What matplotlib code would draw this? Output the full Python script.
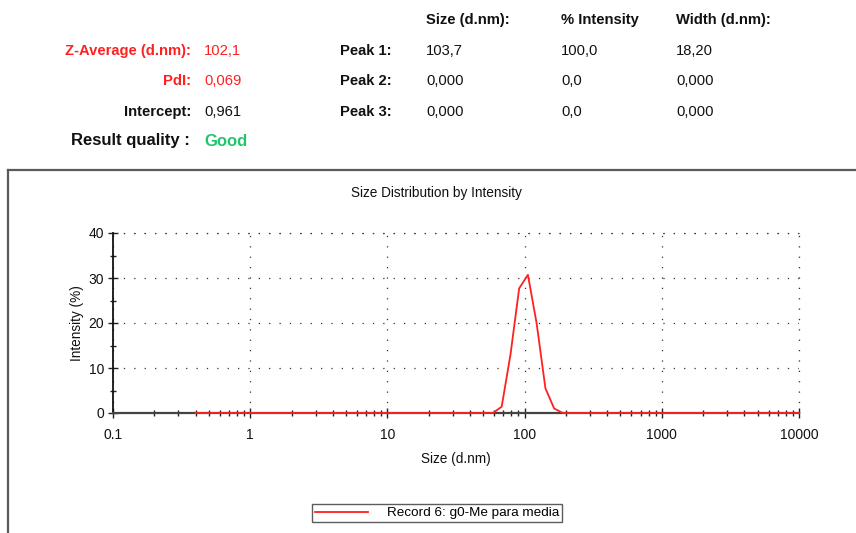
import matplotlib
matplotlib.use("Agg")
import matplotlib.pyplot as plt
from matplotlib.lines import Line2D
from matplotlib.ticker import LogLocator, FixedLocator, NullFormatter, FixedFormatter

plt.rcParams['font.family'] = ['Liberation Sans', 'DejaVu Sans']

# Size classes (d.nm) and intensity distribution (%)
size_classes = [
    0.4, 0.4632, 0.5365, 0.6213, 0.7195, 0.8332, 0.9649, 1.117, 1.294, 1.499,
    1.736, 2.01, 2.328, 2.696, 3.122, 3.615, 4.187, 4.849, 5.615, 6.503,
    7.531, 8.721, 10.1, 11.7, 13.54, 15.69, 18.17, 21.04, 24.36, 28.21,
    32.67, 37.84, 43.82, 50.75, 58.77, 68.06, 78.82, 91.28, 105.7, 122.4,
    141.8, 164.2, 190.1, 220.2, 255.0, 295.3, 342.0, 396.1, 458.7, 531.2,
    615.1, 712.4, 825.0, 955.4, 1106, 1281, 1484, 1718, 1990, 2305,
    2669, 3091, 3580, 4145, 4801, 5560, 6439, 7456, 8635, 10000,
]
intensity = [
    0, 0, 0, 0, 0, 0, 0, 0, 0, 0,
    0, 0, 0, 0, 0, 0, 0, 0, 0, 0,
    0, 0, 0, 0, 0, 0, 0, 0, 0, 0,
    0, 0, 0, 0, 0.0, 1.4, 12.9, 27.7, 30.7, 19.9,
    5.5, 1.0, 0.0, 0, 0, 0, 0, 0, 0, 0,
    0, 0, 0, 0, 0, 0, 0, 0, 0, 0,
    0, 0, 0, 0, 0, 0, 0, 0, 0, 0,
]
record_label = "Record 6: g0-Me para media"

x_ticks = [0.1, 1, 10, 100, 1000, 10000]
x_tick_labels = ["0.1", "1", "10", "100", "1000", "10000"]
y_ticks = [0, 10, 20, 30, 40]

# Summary table
summary_labels = ["Z-Average (d.nm):", "PdI:", "Intercept:"]
summary_values = ["102,1", "0,069", "0,961"]
summary_colors = ["#ff2020", "#ff2020", "#111111"]
quality_label = "Result quality :"
quality_value = "Good"
peak_labels = ["Peak 1:", "Peak 2:", "Peak 3:"]
column_headers = ["Size (d.nm):", "% Intensity", "Width (d.nm):"]
peak_sizes = ["103,7", "0,000", "0,000"]
peak_intensities = ["100,0", "0,0", "0,0"]
peak_widths = ["18,20", "0,000", "0,000"]

W, H = 856, 533
fig = plt.figure(figsize=(W / 100, H / 100), dpi=100)
fig.patch.set_facecolor("white")


def fx(px):
    return px / W


def fy(py):
    return 1 - py / H


HDR_FS = 10.6

# ---- header text block ----
row_y = [51, 81, 112]
for lab, val, col, yy in zip(summary_labels, summary_values, summary_colors, row_y):
    fig.text(fx(191), fy(yy), lab, ha="right", va="center", fontsize=HDR_FS,
             fontweight="bold", color=col)
    fig.text(fx(204), fy(yy), val, ha="left", va="center", fontsize=HDR_FS,
             color=col)
fig.text(fx(190), fy(141), quality_label, ha="right", va="center", fontsize=12,
         fontweight="bold", color="#111111")
fig.text(fx(204), fy(141), quality_value, ha="left", va="center", fontsize=12,
         fontweight="bold", color="#22c46c")

col_x = [426, 561, 676]
for hdr, cx in zip(column_headers, col_x):
    fig.text(fx(cx), fy(20), hdr, ha="left", va="center", fontsize=HDR_FS,
             fontweight="bold", color="#111111")
for i, yy in enumerate(row_y):
    fig.text(fx(392), fy(yy), peak_labels[i], ha="right", va="center",
             fontsize=HDR_FS, fontweight="bold", color="#111111")
    for cx, vals in zip(col_x, [peak_sizes, peak_intensities, peak_widths]):
        fig.text(fx(cx), fy(yy), vals[i], ha="left", va="center",
                 fontsize=HDR_FS, color="#111111")

# ---- chart frame ----
frame_col = "#5a5a5a"
fig.add_artist(Line2D([fx(8), fx(8)], [0, fy(170)], color=frame_col, lw=1.6))
fig.add_artist(Line2D([fx(8), 1.0], [fy(170), fy(170)], color=frame_col, lw=1.6))

fig.text(fx(436), fy(193), "Size Distribution by Intensity", ha="center",
         va="center", fontsize=9.8, color="#111111")

# ---- plot ----
ax = fig.add_axes([fx(113), fy(413), fx(799) - fx(113), fy(233) - fy(413)])
ax.set_xscale("log")
ax.set_xlim(0.1, 10000)
ax.set_ylim(0, 40)

line, = ax.plot(size_classes, intensity, color="#ff2020", lw=1.3,
                label=record_label, zorder=2.6, clip_on=False)

ax.xaxis.set_major_locator(FixedLocator(x_ticks))
ax.xaxis.set_major_formatter(FixedFormatter(x_tick_labels))
ax.xaxis.set_minor_locator(LogLocator(base=10, subs=range(2, 10), numticks=20))
ax.xaxis.set_minor_formatter(NullFormatter())
ax.yaxis.set_major_locator(FixedLocator(y_ticks))
ax.yaxis.set_minor_locator(FixedLocator([5, 15, 25, 35]))

ax.tick_params(axis="both", which="major", direction="inout", length=7,
               width=1, color="#222222", labelsize=10, labelcolor="#111111")
ax.tick_params(axis="x", which="major", pad=7.5)
ax.tick_params(axis="y", which="major", pad=3)
ax.tick_params(axis="both", which="minor", direction="inout", length=4.5,
               width=1, color="#222222")

grid_style = dict(color="#333333", linestyle=(0, (1, 7.3)), linewidth=0.9)
ax.grid(True, which="major", **grid_style)
ax.set_axisbelow(True)

for s in ["top", "right"]:
    ax.spines[s].set_visible(False)
ax.spines["left"].set_color("#111111")
ax.spines["left"].set_linewidth(1.3)
ax.spines["bottom"].set_color("#444444")
ax.spines["bottom"].set_linewidth(1.6)

# dotted borders on top and right
ax.axhline(40, **grid_style, clip_on=False)
ax.axvline(10000, **grid_style, clip_on=False)

ax.set_xlabel("Size (d.nm)", fontsize=9.8, color="#111111", labelpad=7)
ax.set_ylabel("Intensity (%)", fontsize=9.8, color="#111111", labelpad=3)

leg = fig.legend(handles=[line], loc="center", bbox_to_anchor=(fx(437), fy(513)),
                 fontsize=9.7, frameon=True, fancybox=False, handlelength=4.0,
                 borderpad=0.2, handletextpad=1.4, borderaxespad=0)
leg.get_frame().set_edgecolor("#333333")
leg.get_frame().set_linewidth(1.0)

fig.savefig("out.png", dpi=100, facecolor="white")
